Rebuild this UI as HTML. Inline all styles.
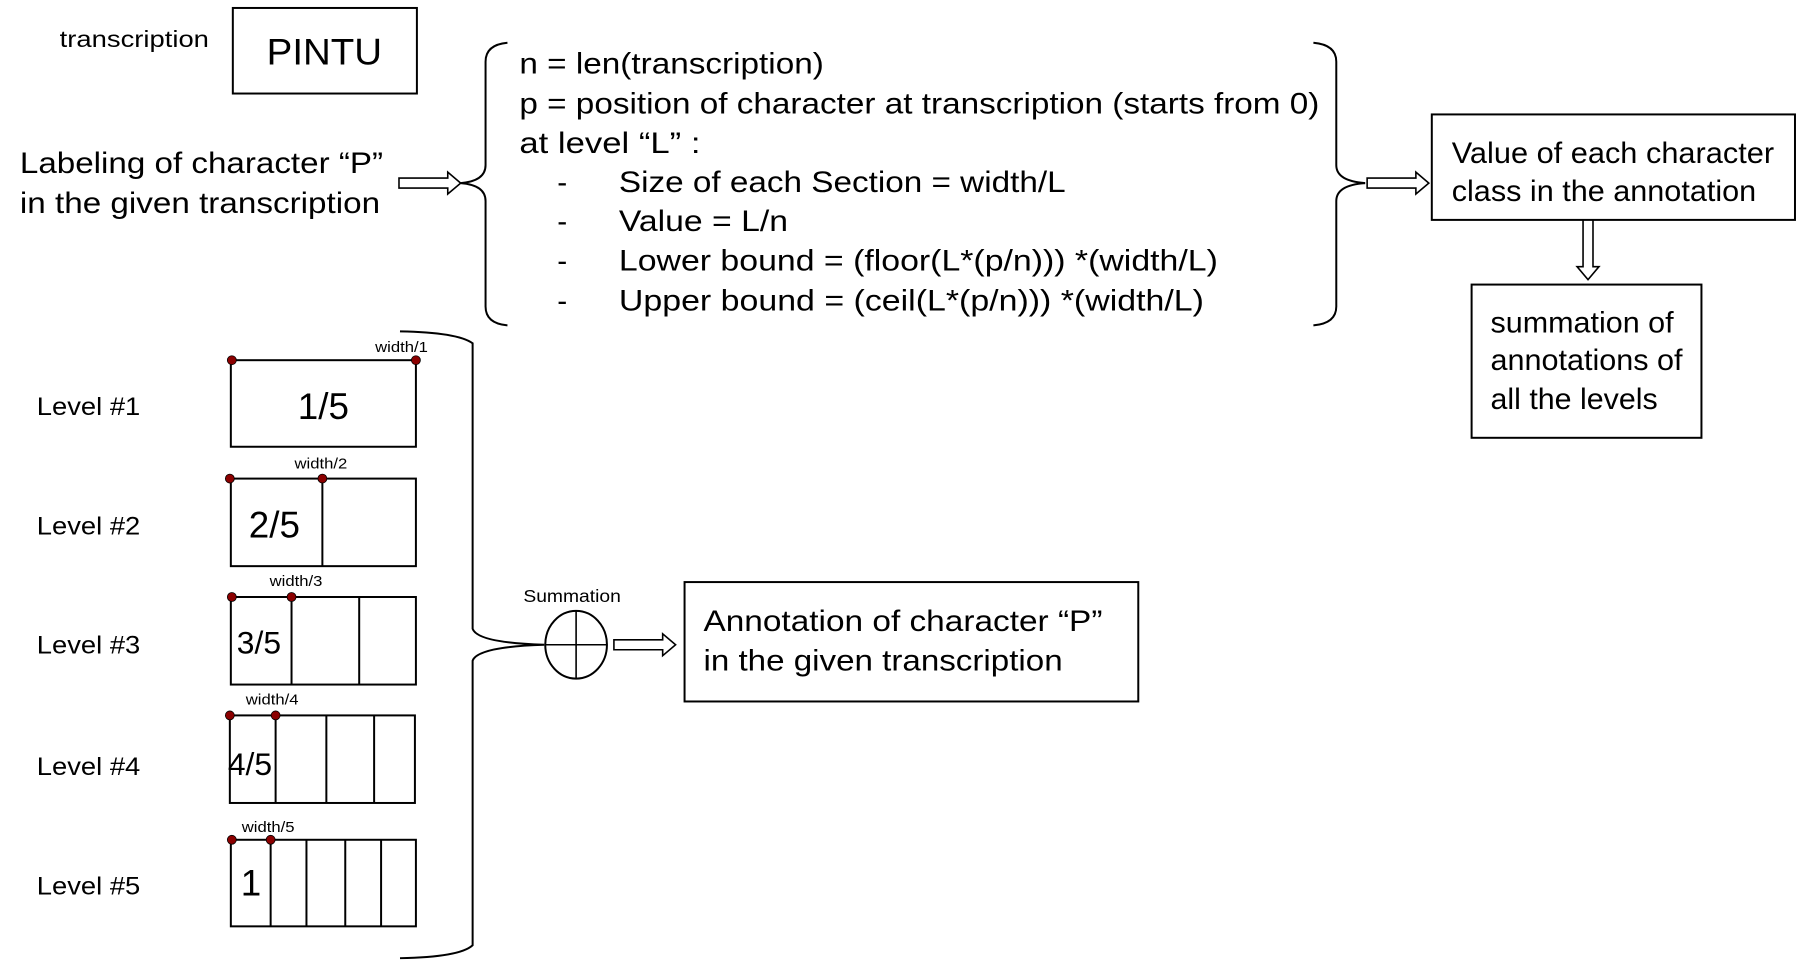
<!DOCTYPE html>
<html><head><meta charset="utf-8"><style>
html,body{margin:0;padding:0;background:#fff;}
svg{display:block;font-family:"Liberation Sans",Arial,sans-serif;}
</style></head><body>
<svg width="1806" height="971" viewBox="0 0 1806 971" xmlns="http://www.w3.org/2000/svg">
<g transform="scale(0.995)">
<g fill="none" stroke="#000" stroke-width="2">
<rect x="234" y="8" width="185" height="86"/>
<rect x="1439" y="115" width="365" height="106"/>
<rect x="1479" y="286" width="231" height="154"/>
<rect x="688" y="585" width="456" height="120"/>
<path d="M401 179 H450 V173 L463 184 L450 195 V189 H401 Z" stroke-width="1.6"/>
<path d="M1374 179 H1423 V173 L1436 184 L1423 195 V189 H1374 Z" stroke-width="1.6"/>
<path d="M617 643 H666 V637 L679 648 L666 659 V653 H617 Z" stroke-width="1.6"/>
<path d="M1591 221 V268 H1585 L1596 281 L1607 268 H1601 V221" stroke-width="1.6"/>
<path d="M510 43 Q488 45 488 62 V166 Q488 182 463 184 Q488 186 488 202 V308 Q488 325 510 327"/>
<path d="M1320 43 Q1343 45 1343 62 V166 Q1343 182 1372 184"/>
<path d="M1372 184 Q1343 186 1343 202 V308 Q1343 325 1320 327"/>
<path d="M402 333 Q460 334 475 345 V632 Q480 646 547 648 Q480 650 475 664 V950 Q462 962 402 963"/>
<ellipse cx="579" cy="648" rx="31" ry="34"/>
<path d="M548 648 H610 M579 614 V682" stroke-width="1.6"/>
<rect x="232" y="362" width="186" height="87"/>
<rect x="232" y="481" width="186" height="88"/>
<line x1="324" y1="481" x2="324" y2="569"/>
<rect x="232" y="600" width="186" height="88"/>
<line x1="293" y1="600" x2="293" y2="688"/><line x1="361" y1="600" x2="361" y2="688"/>
<rect x="231" y="719" width="186" height="88"/>
<line x1="277" y1="719" x2="277" y2="807"/><line x1="328" y1="719" x2="328" y2="807"/><line x1="376" y1="719" x2="376" y2="807"/>
<rect x="232" y="844" width="186" height="87"/>
<line x1="272" y1="844" x2="272" y2="931"/><line x1="308" y1="844" x2="308" y2="931"/><line x1="347" y1="844" x2="347" y2="931"/><line x1="383" y1="844" x2="383" y2="931"/>
</g>
<g fill="#8b0000" stroke="#000" stroke-width="0.8">
<circle cx="233" cy="362" r="4.5"/><circle cx="418" cy="362" r="4.5"/>
<circle cx="231" cy="481" r="4.5"/><circle cx="324" cy="481" r="4.5"/>
<circle cx="233" cy="600" r="4.5"/><circle cx="293" cy="600" r="4.5"/>
<circle cx="231" cy="719" r="4.5"/><circle cx="277" cy="719" r="4.5"/>
<circle cx="233" cy="844" r="4.5"/><circle cx="272" cy="844" r="4.5"/>
</g>
<g fill="#000" lengthAdjust="spacingAndGlyphs">
<text x="60" y="47" font-size="23" textLength="150" lengthAdjust="spacingAndGlyphs">transcription</text>
<text x="268" y="65" font-size="37" textLength="116" lengthAdjust="spacingAndGlyphs">PINTU</text>
<text x="20" y="174" font-size="30" textLength="365" lengthAdjust="spacingAndGlyphs">Labeling of character “P”</text>
<text x="20" y="214" font-size="30" textLength="362" lengthAdjust="spacingAndGlyphs">in the given transcription</text>
<g font-size="30">
<text x="522" y="74" textLength="306" lengthAdjust="spacingAndGlyphs">n = len(transcription)</text>
<text x="522" y="114" textLength="804" lengthAdjust="spacingAndGlyphs">p = position of character at transcription (starts from 0)</text>
<text x="522" y="154" textLength="182" lengthAdjust="spacingAndGlyphs">at level “L”  :</text>
<text x="560" y="193">-</text><text x="622" y="193" textLength="449" lengthAdjust="spacingAndGlyphs">Size of each Section = width/L</text>
<text x="560" y="232">-</text><text x="622" y="232" textLength="170" lengthAdjust="spacingAndGlyphs">Value = L/n</text>
<text x="560" y="272">-</text><text x="622" y="272" textLength="602" lengthAdjust="spacingAndGlyphs">Lower bound =  (floor(L*(p/n))) *(width/L)</text>
<text x="560" y="312">-</text><text x="622" y="312" textLength="588" lengthAdjust="spacingAndGlyphs">Upper bound =  (ceil(L*(p/n))) *(width/L)</text>
<text x="1459" y="164" textLength="324" lengthAdjust="spacingAndGlyphs">Value of each character</text>
<text x="1459" y="202" textLength="306" lengthAdjust="spacingAndGlyphs">class in the annotation</text>
<text x="1498" y="334" textLength="184" lengthAdjust="spacingAndGlyphs">summation of</text>
<text x="1498" y="372" textLength="193" lengthAdjust="spacingAndGlyphs">annotations of</text>
<text x="1498" y="411" textLength="168" lengthAdjust="spacingAndGlyphs">all the levels</text>
<text x="707" y="634" textLength="401" lengthAdjust="spacingAndGlyphs">Annotation of character “P”</text>
<text x="707" y="674" textLength="361" lengthAdjust="spacingAndGlyphs">in the given transcription</text>
</g>
<g font-size="25">
<text x="37" y="417" textLength="104" lengthAdjust="spacingAndGlyphs">Level #1</text>
<text x="37" y="537" textLength="104" lengthAdjust="spacingAndGlyphs">Level #2</text>
<text x="37" y="657" textLength="104" lengthAdjust="spacingAndGlyphs">Level #3</text>
<text x="37" y="779" textLength="104" lengthAdjust="spacingAndGlyphs">Level #4</text>
<text x="37" y="899" textLength="104" lengthAdjust="spacingAndGlyphs">Level #5</text>
</g>
<g font-size="15">
<text x="377" y="354" textLength="53" lengthAdjust="spacingAndGlyphs">width/1</text>
<text x="296" y="471" textLength="53" lengthAdjust="spacingAndGlyphs">width/2</text>
<text x="271" y="589" textLength="53" lengthAdjust="spacingAndGlyphs">width/3</text>
<text x="247" y="708" textLength="53" lengthAdjust="spacingAndGlyphs">width/4</text>
<text x="243" y="836" textLength="53" lengthAdjust="spacingAndGlyphs">width/5</text>
</g>
<text x="526" y="605" font-size="18" textLength="98" lengthAdjust="spacingAndGlyphs">Summation</text>
<text x="325" y="421" font-size="37" text-anchor="middle">1/5</text>
<text x="250" y="540" font-size="37">2/5</text>
<text x="238" y="657" font-size="32">3/5</text>
<text x="229" y="779" font-size="32">4/5</text>
<text x="242" y="900" font-size="37">1</text>
</g>
</g>
</svg>
</body></html>
